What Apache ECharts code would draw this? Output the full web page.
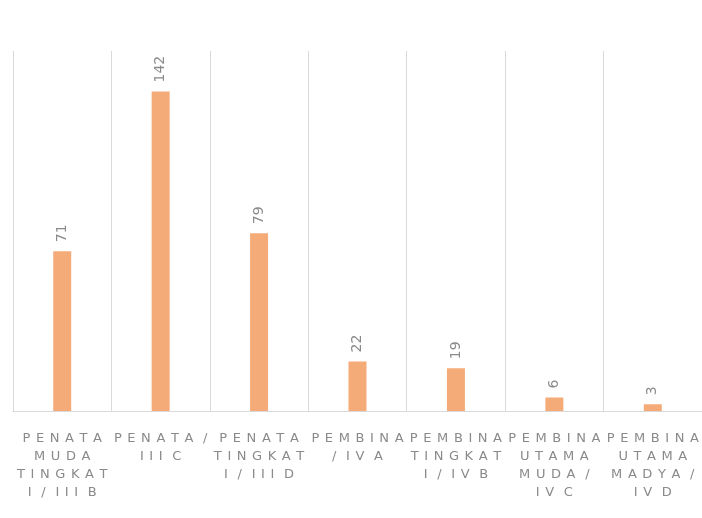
<!DOCTYPE html>
<html>
<head>
<meta charset="utf-8">
<script src="https://cdn.jsdelivr.net/npm/echarts@6/dist/echarts.min.js"></script>
<style>
  html, body { margin: 0; padding: 0; background: #fff; }
  #chart { width: 702px; height: 518px; }
</style>
</head>
<body>
<div id="chart"></div>
<script>
// kategori pangkat / golongan (baris dipisah seperti di gambar)
const categories = [
  'PENATA\nMUDA\nTINGKAT\nI / III B',
  'PENATA /\nIII C',
  'PENATA\nTINGKAT\nI / III D',
  'PEMBINA\n/ IV A',
  'PEMBINA\nTINGKAT\nI / IV B',
  'PEMBINA\nUTAMA\nMUDA /\nIV C',
  'PEMBINA\nUTAMA\nMADYA /\nIV D'
];
const jumlah = [71, 142, 79, 22, 19, 6, 3];

// jarak antar huruf (echarts tidak punya letterSpacing)
const GAP = '\u2004\u200A';
function spaced(s) {
  return s.split('\n')
    .map(line => line.split(' ').map(w => w.split('').join(GAP)).join(' ' + GAP))
    .join('\n');
}

const chart = echarts.init(document.getElementById('chart'));

chart.setOption({
  animation: false,
  grid: { left: 13, right: 0, top: 51, bottom: 107, containLabel: false },
  xAxis: {
    type: 'category',
    data: categories,
    axisLine: { show: true, lineStyle: { color: '#d9d9d9', width: 1 } },
    axisTick: { show: false },
    splitLine: { show: true, lineStyle: { color: '#d9d9d9', width: 1 } },
    axisLabel: {
      interval: 0,
      margin: 19,
      color: '#8a8a8a',
      fontFamily: 'DejaVu Sans',
      fontSize: 13,
      lineHeight: 18,
      align: 'center',
      formatter: v => spaced(v)
    }
  },
  yAxis: {
    type: 'value',
    min: 0,
    max: 160,
    show: false,
    splitLine: { show: false }
  },
  series: [{
    type: 'bar',
    data: jumlah,
    barWidth: 18,
    itemStyle: { color: '#F4AB78' },
    label: {
      show: true,
      position: 'top',
      rotate: 90,
      align: 'left',
      verticalAlign: 'middle',
      distance: 9,
      color: '#8a8a8a',
      fontFamily: 'DejaVu Sans',
      fontSize: 14
    }
  }]
});
</script>
</body>
</html>
